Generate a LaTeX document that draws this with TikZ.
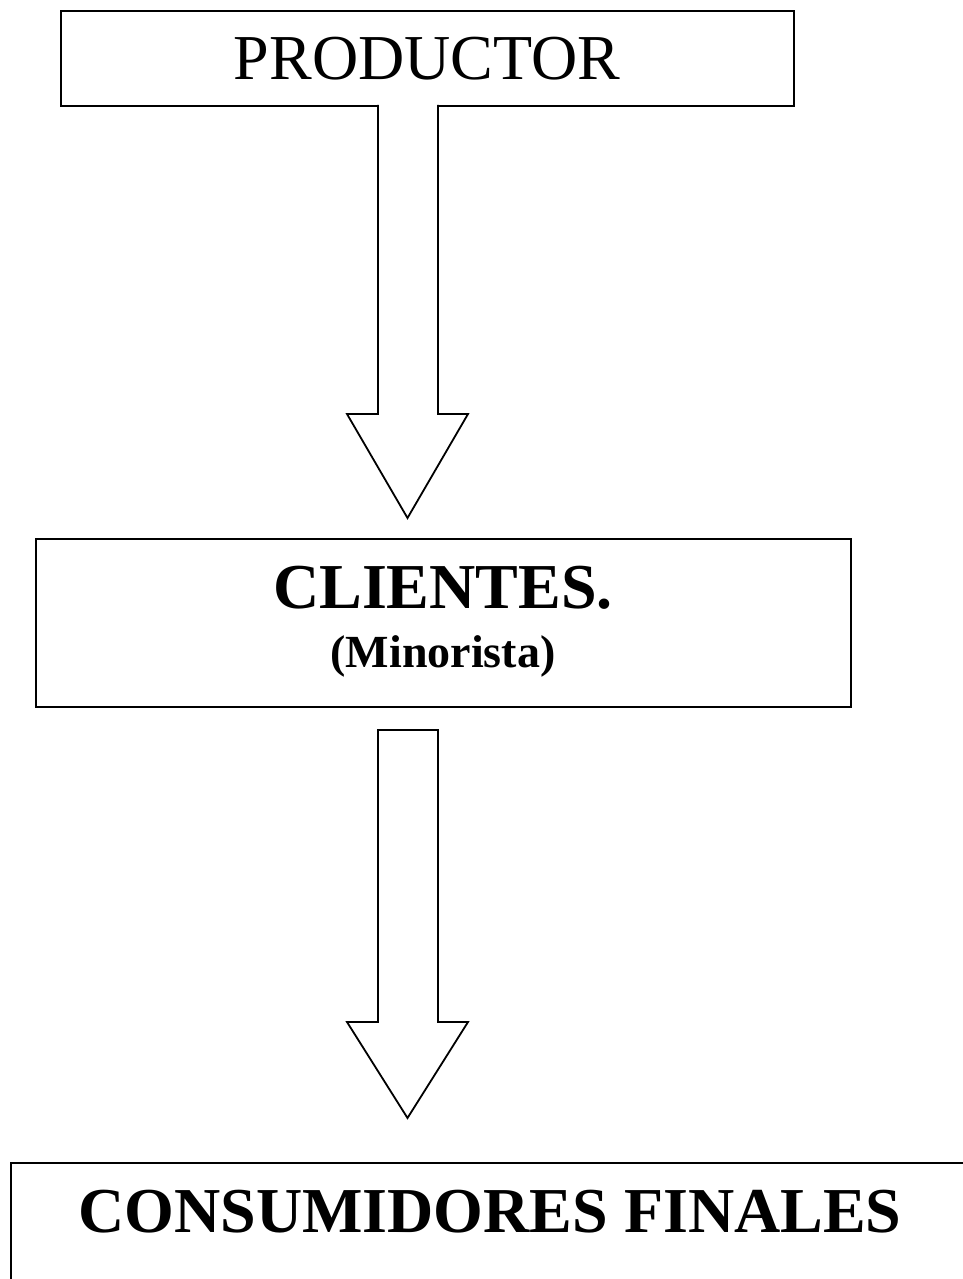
\documentclass[tikz,border=0pt]{standalone}
\usepackage{fontspec}
\setmainfont{Liberation Serif}
\begin{document}
\begin{tikzpicture}[x=1pt,y=-1pt,
  boxed/.style={draw,line width=2pt,rectangle,inner sep=0pt,anchor=north west},
  bigarrow/.style={draw,line width=1.8pt,line join=miter,fill=white},
  lbl/.style={anchor=base,inner sep=0pt}]
\useasboundingbox (0,0) rectangle (963,1279);
\clip (0,0) rectangle (963,1279);
% boxes
\node[boxed,minimum width=733pt,minimum height=95pt] (prod) at (60,10) {};
\node[boxed,minimum width=815pt,minimum height=168pt] (cli) at (35,538) {};
\node[boxed,minimum width=970pt,minimum height=200pt] (cons) at (10,1162) {};
% texts
\node[lbl,font=\fontsize{64}{70}\selectfont] (tprod) at (427,80) {PRODUCTOR};
\node[lbl,font=\fontsize{64}{70}\selectfont\bfseries] (tcli) at (443,608) {CLIENTES.};
\node[lbl,font=\fontsize{46}{50}\selectfont\bfseries] (tmin) at (443,667) {(Minorista)};
\node[lbl,font=\fontsize{64}{70}\selectfont\bfseries] (tcons) at (490,1232) {CONSUMIDORES FINALES};
% arrows
\coordinate (a1tip) at (407.5,518);
\coordinate (a2tip) at (407.5,1118);
\draw[bigarrow] (378,105) -- (378,414) -- (347,414) -- (a1tip) -- (468,414) -- (438,414) -- (438,105);
\draw[bigarrow] (378,730) -- (378,1022) -- (347,1022) -- (a2tip) -- (468,1022) -- (438,1022) -- (438,730) -- cycle;
\end{tikzpicture}
\end{document}
